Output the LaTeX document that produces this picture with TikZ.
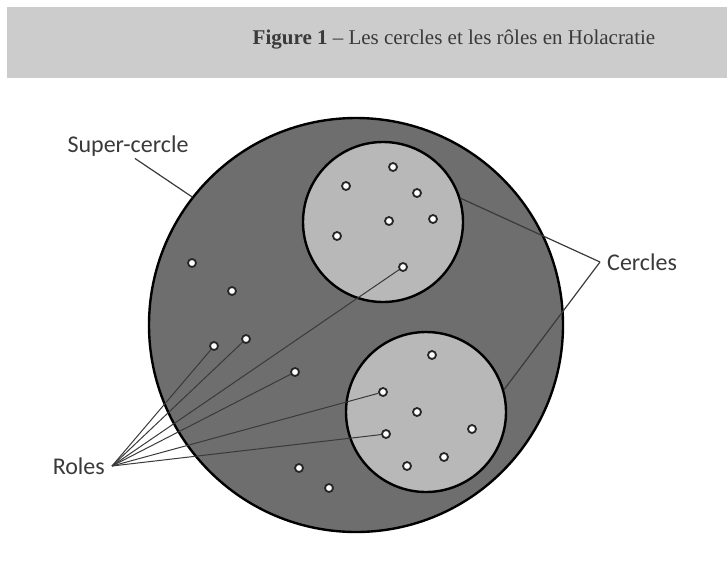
\documentclass[tikz,border=0pt]{standalone}
\usepackage{fontspec}
\setmainfont{Liberation Serif}
\newfontfamily\labelfont{Carlito}
\usepackage{xcolor}
\usetikzlibrary{positioning}

\definecolor{bandgray}{HTML}{CCCCCC}
\definecolor{supergray}{HTML}{6E6E6E}
\definecolor{cerclegray}{HTML}{B8B8B8}
\definecolor{inkgray}{HTML}{3A3A3A}

\begin{document}
\begin{tikzpicture}[x=1pt, y=-1pt,
            supercircle/.style={draw=black, circle, fill=supergray, line width=2.4pt, minimum size=414pt, inner sep=0pt},
            subcircle/.style={draw=black, circle, fill=cerclegray, line width=2.4pt, minimum size=160pt, inner sep=0pt},
            role/.style={draw=black!85, circle, fill=white, line width=1.8pt, minimum size=8pt, inner sep=0pt},
            tag/.style={font=\labelfont\fontsize{24}{28}\selectfont, text=inkgray, inner sep=2pt},
            pointer/.style={draw=inkgray, line width=1.2pt}]
            \useasboundingbox (0,0) rectangle (727,565);

            % Title band
            \fill[bandgray] (7,7) rectangle (727,78);
            \node (title) at (454,40) [text=inkgray, font=\fontsize{21}{25}\selectfont] {\textbf{Figure 1} -- Les cercles et les rôles en Holacratie};

            % Circles
            \node (super) [supercircle] at (356,325) {};
            \node (c1) [subcircle] at (383,222) {};
            \node (c2) [subcircle] at (426,412) {};

            % Roles outside the sub-circles
            \node (r1) [role] at (192,263) {};
            \node (r2) [role] at (232,291) {};
            \node (r3) [role] at (214,346) {};
            \node (r4) [role] at (246,339) {};
            \node (r5) [role] at (295,372) {};
            \node (r6) [role] at (299,468) {};
            \node (r7) [role] at (329,488) {};

            % Roles in the upper circle
            \node (u1) [role] at (393,167) {};
            \node (u2) [role] at (346,186) {};
            \node (u3) [role] at (417,193) {};
            \node (u4) [role] at (389,221) {};
            \node (u5) [role] at (433,219) {};
            \node (u6) [role] at (337,236) {};
            \node (u7) [role] at (403,267) {};

            % Roles in the lower circle
            \node (l1) [role] at (432,355) {};
            \node (l2) [role] at (383,392) {};
            \node (l3) [role] at (417,412) {};
            \node (l4) [role] at (386,434) {};
            \node (l5) [role] at (472,429) {};
            \node (l6) [role] at (444,457) {};
            \node (l7) [role] at (407,466) {};

            % Labels
            \node (supertag) [tag] at (128,146) {Super-cercle};
            \node (cerclestag) [tag, anchor=west] at (605,262) {Cercles};
            \node (rolestag) [tag, anchor=east] at (107,466) {Roles};

            % Pointers
            \draw [pointer] ([xshift=7pt]supertag.south) -- (super.142);
            \draw [pointer] ([xshift=-5pt]cerclestag.west) -- (c1.17);
            \draw [pointer] ([xshift=-5pt]cerclestag.west) -- (c2.16);
            \foreach \r in {r3, r4, u7, r5, l2, l4}
                \draw [pointer, line width=1pt] ([xshift=5pt]rolestag.east) -- (\r);
        \end{tikzpicture}
\end{document}
